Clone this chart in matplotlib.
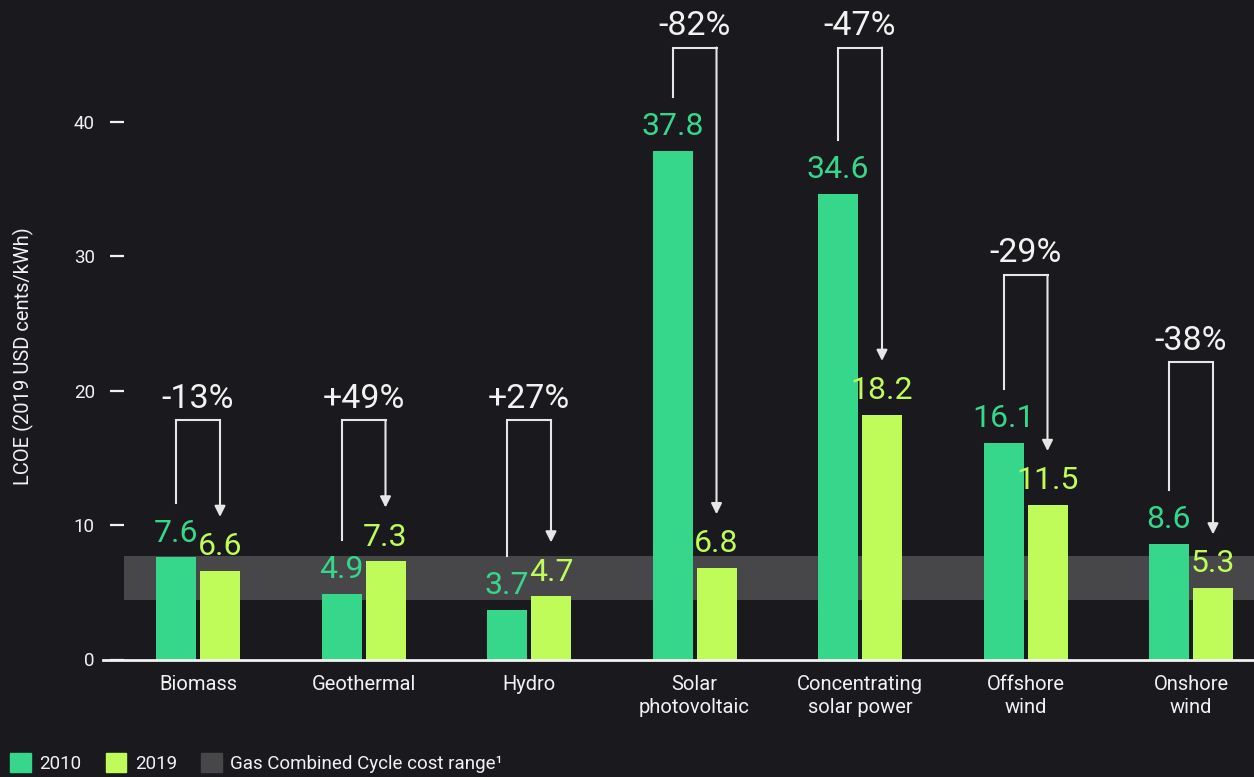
import matplotlib
matplotlib.use("Agg")
import matplotlib.pyplot as plt
from matplotlib.patches import Patch
import numpy as np

plt.rcParams['font.family'] = ['Roboto', 'DejaVu Sans']

categories = ["Biomass", "Geothermal", "Hydro", "Solar\nphotovoltaic",
              "Concentrating\nsolar power", "Offshore\nwind", "Onshore\nwind"]
lcoe_2010 = [7.6, 4.9, 3.7, 37.8, 34.6, 16.1, 8.6]
lcoe_2019 = [6.6, 7.3, 4.7, 6.8, 18.2, 11.5, 5.3]
pct_change = ["-13%", "+49%", "+27%", "-82%", "-47%", "-29%", "-38%"]
gas_range = (4.4, 7.7)
yticks = [0, 10, 20, 30, 40]

# annotation layout (bracket heights)
bracket_top = [17.8, 17.8, 17.8, 45.5, 45.5, 28.6, 22.1]
bracket_gap = 4.0

BG = "#1a1a1e"
C2010 = "#36d68b"
C2019 = "#bffc5a"
GAS = "#474749"
WHITE = "#f2f2f2"
LINE = "#e6e6e6"

W, H = 1254, 777
fig = plt.figure(figsize=(W / 100, H / 100), dpi=100, facecolor=BG)
y0_px = 659.5
ax = fig.add_axes([124 / W, (H - y0_px) / H, 1130 / W, y0_px / H])
ax.set_facecolor(BG)

px_per_unit = 13.45
ax.set_ylim(0, y0_px / px_per_unit)
gs = 165.5
ax.set_xlim(-74 / gs, (1254 - 198) / gs)

x = np.arange(len(categories))
bw = 40 / gs
off = 22 / gs

ax.axhspan(gas_range[0], gas_range[1], color=GAS, zorder=1, lw=0)
ax.bar(x - off, lcoe_2010, width=bw, color=C2010, zorder=2, lw=0)
ax.bar(x + off, lcoe_2019, width=bw, color=C2019, zorder=2, lw=0)

for i in range(len(categories)):
    ax.annotate(f"{lcoe_2010[i]:.1f}", xy=(x[i] - off, lcoe_2010[i]),
                xytext=(0, 7), textcoords="offset points", ha="center",
                va="bottom", color=C2010, fontsize=23, zorder=4)
    ax.annotate(f"{lcoe_2019[i]:.1f}", xy=(x[i] + off, lcoe_2019[i]),
                xytext=(0, 7), textcoords="offset points", ha="center",
                va="bottom", color=C2019, fontsize=23, zorder=4)
    top = bracket_top[i]
    xl, xr = x[i] - off, x[i] + off
    ax.plot([xl, xl, xr], [lcoe_2010[i] + bracket_gap, top, top],
            color=LINE, lw=1.5, zorder=3, solid_joinstyle="miter")
    ax.annotate("", xy=(xr, lcoe_2019[i] + bracket_gap), xytext=(xr, top),
                arrowprops=dict(arrowstyle="-|>", color=LINE, lw=1.5,
                                mutation_scale=16, shrinkA=0, shrinkB=0),
                zorder=3)
    ax.annotate(pct_change[i], xy=(x[i], top), xytext=(0, 9),
                textcoords="offset points", ha="center", va="baseline",
                color=WHITE, fontsize=24.5, zorder=4)

for s in ax.spines.values():
    s.set_visible(False)
ax.plot([-95 / gs, ax.get_xlim()[1]], [0, 0], color=WHITE, lw=2,
        clip_on=False, zorder=5)

ax.set_yticks(yticks)
ax.set_yticklabels([str(t) for t in yticks])
ax.tick_params(axis="y", colors=WHITE, labelcolor=WHITE, length=10, width=1.6,
               pad=11, labelsize=13.5, direction="out")
ax.set_xticks(x)
ax.set_xticklabels(categories, linespacing=1.25)
ax.tick_params(axis="x", length=0, pad=11, labelsize=14.5, labelcolor=WHITE)

fig.text(23 / W, 1 - 356 / H, "LCOE (2019 USD cents/kWh)", rotation=90,
         ha="center", va="center", color=WHITE, fontsize=14.5)

handles = [Patch(color=C2010), Patch(color=C2019), Patch(color=GAS)]
labels = ["2010", "2019", "Gas Combined Cycle cost range\u00b9"]
fig.legend(handles, labels, loc="lower left", bbox_to_anchor=(10 / W, 4 / H),
           ncol=3, frameon=False, fontsize=13.5, labelcolor=WHITE,
           handlelength=1.1, handleheight=1.2, handletextpad=0.45,
           columnspacing=1.3, borderpad=0, borderaxespad=0)

fig.savefig("out.png", dpi=100, facecolor=BG)
